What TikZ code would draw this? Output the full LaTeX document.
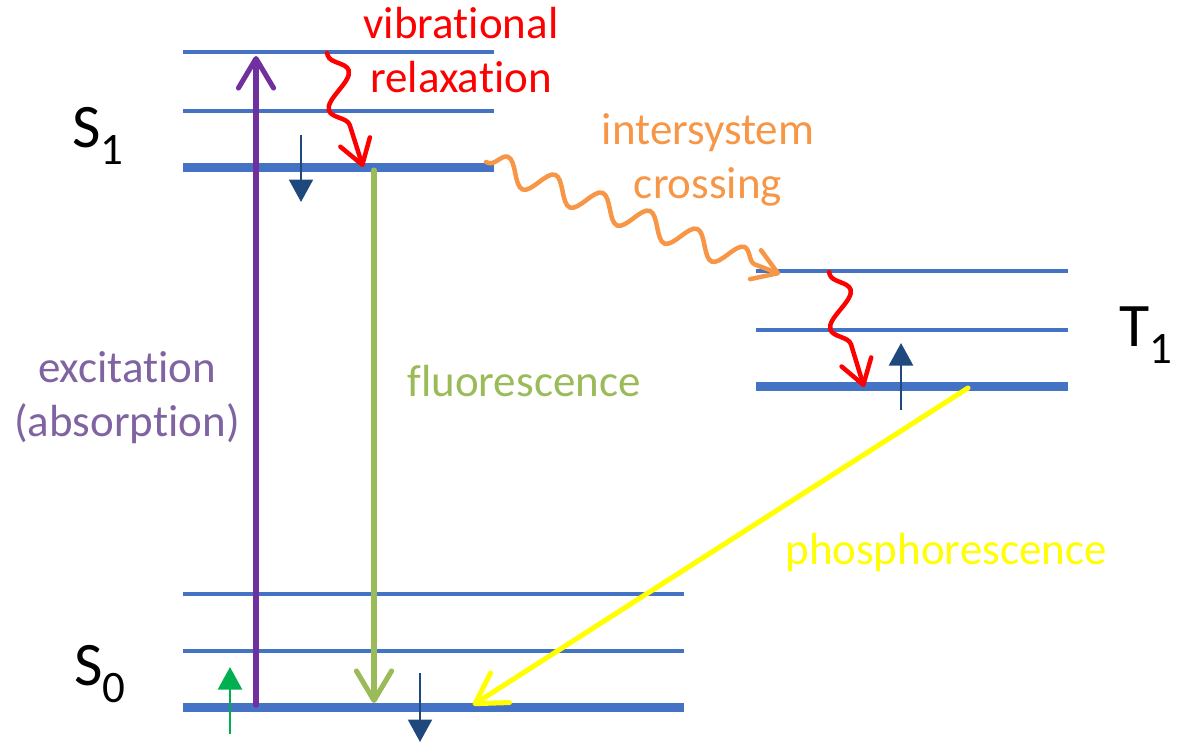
\documentclass[tikz,border=0pt]{standalone}
\usepackage{fontspec}
\setmainfont{Carlito}[Ligatures={NoCommon}]
\usetikzlibrary{arrows.meta,decorations.pathmorphing,positioning}
\definecolor{cLevel}{RGB}{68,114,196}
\definecolor{cSpin}{RGB}{31,73,125}
\definecolor{cExc}{RGB}{112,48,160}
\definecolor{cExcTxt}{RGB}{128,100,162}
\definecolor{cFluo}{RGB}{155,187,89}
\definecolor{cISC}{RGB}{247,150,70}
\definecolor{cPhos}{RGB}{255,255,0}
\definecolor{cUp}{RGB}{0,176,80}
\tikzset{
  thinlev/.style={line width=2.8pt,draw=cLevel},
  thicklev/.style={line width=6.4pt,draw=cLevel},
  radarr/.style={line width=3.6pt,line cap=round,
                 -{Straight Barb[length=21pt,width=25pt,round]}},
  wavyarr/.style={line width=3.2pt,line cap=round,
                  decorate,decoration={snake,amplitude=9pt,segment length=36pt,
                  pre length=2pt,post length=14pt},
                  -{Straight Barb[length=17pt,width=22pt,round]}},
  spinarr/.style={line width=1.8pt,-{Triangle[length=16pt,width=17pt]}},
  lbl/.style={font=\fontsize{32}{38.5}\selectfont,align=center,inner sep=0pt},
  statelbl/.style={font=\fontsize{44}{50}\selectfont,inner sep=0pt}
}
\newcommand{\statename}[2]{#1\raisebox{-12.5pt}{\fontsize{32}{36}\selectfont #2}}

\begin{document}
\begin{tikzpicture}[x=0.025cm,y=-0.025cm]
  \useasboundingbox (0,0) rectangle (1182,744);

  % energy levels
  \coordinate (s1a) at (183,52);   \coordinate (s1a') at (494,52);
  \coordinate (s1b) at (183,111);  \coordinate (s1b') at (494,111);
  \coordinate (s1c) at (183,167);  \coordinate (s1c') at (494,167);
  \coordinate (t1a) at (756,271);  \coordinate (t1a') at (1068,271);
  \coordinate (t1b) at (756,330);  \coordinate (t1b') at (1068,330);
  \coordinate (t1c) at (756,386);  \coordinate (t1c') at (1068,386);
  \coordinate (s0a) at (183,594);  \coordinate (s0a') at (684,594);
  \coordinate (s0b) at (183,651);  \coordinate (s0b') at (684,651);
  \coordinate (s0c) at (183,707);  \coordinate (s0c') at (684,707);

  \draw[thinlev] (s1a) -- (s1a');
  \draw[thinlev] (s1b) -- (s1b');
  \draw[thicklev] (s1c) -- (s1c');
  \draw[thinlev] (t1a) -- (t1a');
  \draw[thinlev] (t1b) -- (t1b');
  \draw[thicklev] (t1c) -- (t1c');
  \draw[thinlev] (s0a) -- (s0a');
  \draw[thinlev] (s0b) -- (s0b');
  \draw[thicklev] (s0c) -- (s0c');

  % state labels
  \node[statelbl,anchor=base] (s1) at (98,147) {\statename{S}{1}};
  \node[statelbl,anchor=base] (t1) at (1146,346) {\statename{T}{1}};
  \node[statelbl,anchor=base] (s0) at (100,685) {\statename{S}{0}};

  % transition end points
  \coordinate (excA) at (256,705);  \coordinate (excB) at (256,56);
  \coordinate (fluoA) at (374,170); \coordinate (fluoB) at (374,703);
  \coordinate (phosA) at (968,388); \coordinate (phosB) at (473,705);
  \coordinate (iscA) at (486,162);  \coordinate (iscB) at (780,274);
  \coordinate (vrS1A) at (327,53);  \coordinate (vrS1B) at (363,167);
  \coordinate (vrT1A) at (829,272); \coordinate (vrT1B) at (864,387);

  \draw[radarr,cExc] (excA) -- (excB);
  \draw[radarr,cFluo] (fluoA) -- (fluoB);
  \draw[radarr,cPhos] (phosA) -- (phosB);
  \draw[wavyarr,cISC,decoration={segment length=36pt}] (iscA) -- (iscB);
  \draw[wavyarr,red,decoration={segment length=46pt,amplitude=11pt}] (vrS1A) -- (vrS1B);
  \draw[wavyarr,red,decoration={segment length=46pt,amplitude=11pt}] (vrT1A) -- (vrT1B);

  % electron spins
  \coordinate (spS1A) at (301,135); \coordinate (spS1B) at (301,202);
  \coordinate (spT1A) at (901,410); \coordinate (spT1B) at (901,343);
  \coordinate (spS0A) at (420,673); \coordinate (spS0B) at (420,742);
  \coordinate (spUpA) at (230,734); \coordinate (spUpB) at (230,667);
  \draw[spinarr,cSpin] (spS1A) -- (spS1B);
  \draw[spinarr,cSpin] (spT1A) -- (spT1B);
  \draw[spinarr,cSpin] (spS0A) -- (spS0B);
  \draw[spinarr,cUp] (spUpA) -- (spUpB);

  % process labels
  \node[lbl,text=red] (vrlbl) at (461,50) {vibrational\\relaxation};
  \node[lbl,text=cISC] (isclbl) at (708,160) {intersystem\\crossing};
  \node[lbl,text=cFluo,anchor=base] (fluolbl) at (524,396) {fluorescence};
  \node[lbl,text=cExcTxt] (exclbl) at (127,398) {excitation\\(absorption)};
  \node[lbl,text=cPhos,anchor=base] (phoslbl) at (946,564) {phosphorescence};

\end{tikzpicture}
\end{document}
